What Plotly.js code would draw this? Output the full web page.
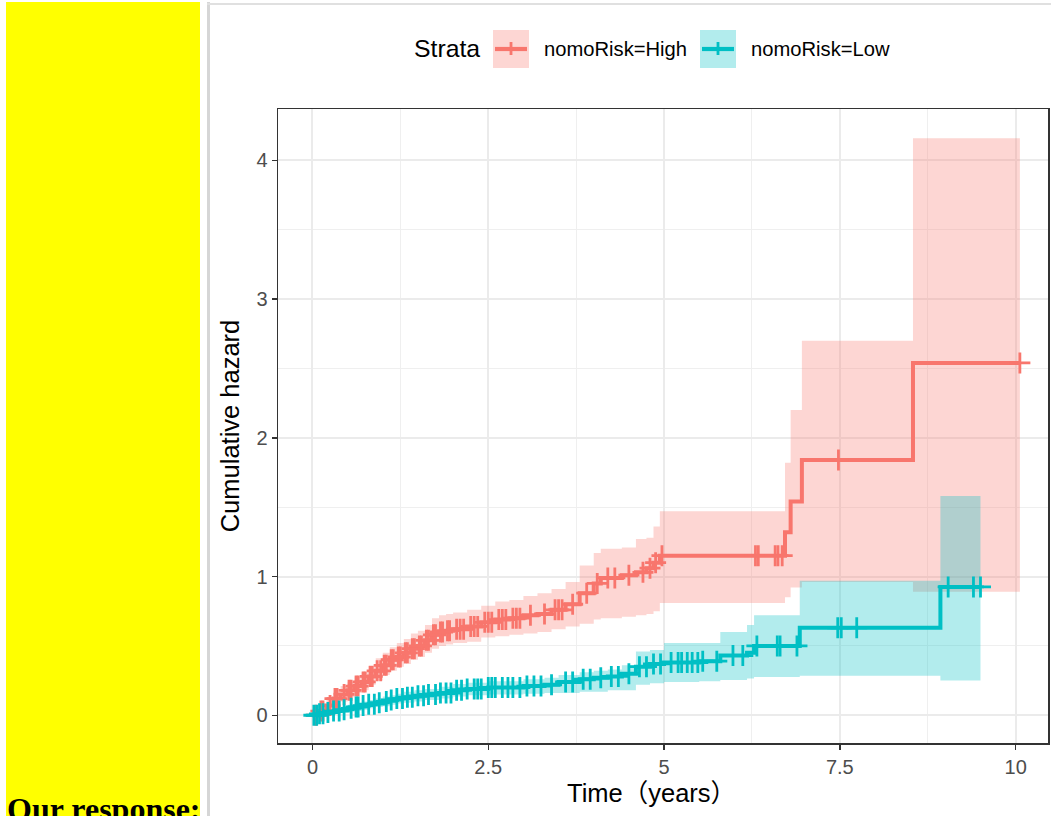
<!DOCTYPE html>
<html>
<head>
<meta charset="utf-8">
<script src="https://cdn.plot.ly/plotly-3.0.1.min.js"></script>
<style>
  html, body { margin:0; padding:0; background:#fff; width:1051px; height:816px; overflow:hidden; }
  #chart { position:absolute; left:0; top:0; width:1051px; height:816px; }
  .deco { position:absolute; z-index:10; pointer-events:none; }
</style>
</head>
<body>
<div id="chart"></div>
<div class="deco" style="left:6px;top:2px;width:194px;height:814px;background:#FFFF00;"></div>
<div class="deco" style="left:207px;top:2px;width:3px;height:814px;background:#D6D6D6;"></div>
<div class="deco" style="left:207px;top:3px;width:844px;height:1.5px;background:#E0E0E0;"></div>
<div class="deco" style="left:7px;top:793px;font:bold 32px 'Liberation Serif','Times New Roman',serif;line-height:32px;color:#000;white-space:nowrap;">Our response:</div>
<script>
// ---------- data ----------
const strataNames = ["nomoRisk=High", "nomoRisk=Low"];

const highTime  = [0, 0.1, 0.2, 0.3, 0.4, 0.5, 0.6, 0.7, 0.8, 0.9, 1.0, 1.1, 1.2, 1.3, 1.4, 1.5, 1.6, 1.7, 1.8, 1.9, 2.0, 2.2, 2.4, 2.6, 2.8, 3.0, 3.2, 3.4, 3.6, 3.8, 4.0, 4.1, 4.4, 4.6, 4.75, 4.85, 4.94, 6.72, 6.80, 6.96, 8.54];
const highHaz   = [0, 0.03, 0.07, 0.12, 0.15, 0.18, 0.21, 0.24, 0.28, 0.32, 0.36, 0.40, 0.42, 0.45, 0.48, 0.50, 0.54, 0.58, 0.60, 0.61, 0.62, 0.64, 0.67, 0.69, 0.70, 0.72, 0.73, 0.76, 0.80, 0.88, 0.95, 0.99, 1.01, 1.03, 1.06, 1.10, 1.15, 1.32, 1.54, 1.84, 2.54];
const highLower = [0, 0.01, 0.04, 0.08, 0.10, 0.13, 0.16, 0.18, 0.22, 0.25, 0.29, 0.32, 0.35, 0.37, 0.40, 0.42, 0.45, 0.48, 0.50, 0.51, 0.52, 0.53, 0.56, 0.57, 0.58, 0.59, 0.60, 0.62, 0.64, 0.66, 0.69, 0.70, 0.71, 0.72, 0.73, 0.75, 0.81, 0.85, 0.92, 0.96, 0.89];
const highUpper = [0, 0.06, 0.11, 0.17, 0.21, 0.24, 0.28, 0.31, 0.36, 0.41, 0.45, 0.49, 0.52, 0.55, 0.59, 0.61, 0.65, 0.70, 0.72, 0.73, 0.74, 0.76, 0.79, 0.82, 0.83, 0.86, 0.88, 0.91, 0.96, 1.08, 1.17, 1.20, 1.21, 1.27, 1.28, 1.36, 1.47, 1.82, 2.20, 2.70, 4.16];
const highEnd = 10.06;
const highCensor = [0.05, 0.12, 0.15, 0.25, 0.32, 0.35, 0.45, 0.52, 0.55, 0.62, 0.65, 0.72, 0.75, 0.82, 0.85, 0.92, 0.97, 1.02, 1.05, 1.12, 1.15, 1.22, 1.25, 1.32, 1.35, 1.42, 1.45, 1.52, 1.55, 1.62, 1.65, 1.72, 1.75, 1.82, 1.85, 1.92, 1.95, 2.05, 2.1, 2.15, 2.25, 2.3, 2.35, 2.45, 2.5, 2.55, 2.65, 2.7, 2.75, 2.85, 2.9, 2.95, 3.1, 3.3, 3.45, 3.5, 3.55, 3.7, 3.9, 4.05, 4.2, 4.3, 4.5, 4.7, 4.8, 4.88, 4.97, 6.3, 6.34, 6.58, 6.62, 6.68, 7.48, 10.06];

const lowTime  = [0, 0.1, 0.2, 0.3, 0.4, 0.5, 0.6, 0.7, 0.8, 0.9, 1.0, 1.1, 1.2, 1.3, 1.45, 1.6, 1.8, 2.0, 2.2, 2.5, 3.0, 3.3, 3.5, 3.8, 4.0, 4.2, 4.4, 4.6, 4.8, 5.0, 5.5, 5.8, 6.18, 6.28, 6.93, 8.93];
const lowHaz   = [0, 0.01, 0.02, 0.03, 0.04, 0.05, 0.06, 0.07, 0.08, 0.09, 0.10, 0.11, 0.12, 0.13, 0.14, 0.15, 0.16, 0.18, 0.19, 0.20, 0.21, 0.22, 0.24, 0.26, 0.27, 0.28, 0.30, 0.35, 0.37, 0.38, 0.39, 0.43, 0.45, 0.50, 0.63, 0.925];
const lowLower = [0, 0.0, 0.005, 0.01, 0.02, 0.025, 0.03, 0.04, 0.05, 0.06, 0.065, 0.075, 0.085, 0.09, 0.10, 0.11, 0.12, 0.135, 0.145, 0.15, 0.155, 0.16, 0.16, 0.17, 0.17, 0.18, 0.18, 0.22, 0.23, 0.24, 0.245, 0.255, 0.265, 0.275, 0.285, 0.25];
const lowUpper = [0, 0.02, 0.035, 0.05, 0.06, 0.075, 0.085, 0.10, 0.11, 0.12, 0.135, 0.145, 0.155, 0.17, 0.18, 0.19, 0.205, 0.225, 0.235, 0.245, 0.26, 0.27, 0.29, 0.31, 0.32, 0.33, 0.36, 0.46, 0.47, 0.52, 0.52, 0.60, 0.65, 0.72, 0.97, 1.58];
const lowEnd = 9.5;
const lowCensor = [0.02, 0.06, 0.1, 0.15, 0.22, 0.3, 0.38, 0.45, 0.55, 0.62, 0.65, 0.72, 0.8, 0.88, 0.95, 1.05, 1.12, 1.2, 1.28, 1.35, 1.42, 1.5, 1.58, 1.65, 1.75, 1.82, 1.9, 1.97, 2.05, 2.12, 2.2, 2.3, 2.35, 2.4, 2.5, 2.55, 2.6, 2.7, 2.78, 2.85, 2.95, 3.05, 3.15, 3.25, 3.4, 3.6, 3.7, 3.85, 3.95, 4.1, 4.25, 4.35, 4.5, 4.65, 4.75, 4.85, 4.95, 5.1, 5.2, 5.25, 5.33, 5.4, 5.48, 5.55, 5.75, 5.98, 6.12, 6.32, 6.61, 6.65, 6.89, 7.47, 7.52, 7.74, 9.04, 9.4, 9.5];

const xTickVals = [0, 2.5, 5, 7.5, 10];
const xMinorVals = [1.25, 3.75, 6.25, 8.75];
const yTickVals = [0, 1, 2, 3, 4];
const yMinorVals = [0.5, 1.5, 2.5, 3.5];
const xTitle = "Time\uFF08years\uFF09";
const yTitle = "Cumulative hazard";

// ---------- styles ----------
const RED = "#F8766D", CYAN = "#00BFC4";
const RED_FILL = "rgba(248,118,109,0.3)", CYAN_FILL = "rgba(0,191,196,0.3)";
const FONT = "'Liberation Sans', Arial, 'Noto Sans CJK SC', sans-serif";

function ext(arr, end) { return arr.concat([end]); }
function extV(arr) { return arr.concat([arr[arr.length - 1]]); }
function stepAt(times, vals, t) {
  let v = vals[0];
  for (let i = 0; i < times.length; i++) { if (times[i] <= t) v = vals[i]; }
  return v;
}

function bandTraces(time, lo, up, end, fill) {
  return [
    { x: ext(time, end), y: extV(lo), mode: "lines", line: { shape: "hv", width: 0, color: fill }, hoverinfo: "skip", showlegend: false },
    { x: ext(time, end), y: extV(up), mode: "lines", line: { shape: "hv", width: 0, color: fill }, fill: "tonexty", fillcolor: fill, hoverinfo: "skip", showlegend: false }
  ];
}
function curveTrace(time, haz, end, color, name) {
  return { x: ext(time, end), y: extV(haz), mode: "lines", name: name, line: { shape: "hv", width: 4, color: color }, showlegend: false };
}
function censorTrace(ct, time, haz, color) {
  return { x: ct, y: ct.map(t => stepAt(time, haz, t)), mode: "markers",
    marker: { symbol: "cross-thin-open", size: 15, color: color, line: { width: 2.8, color: color } },
    hoverinfo: "skip", showlegend: false };
}

const data = []
  .concat(bandTraces(highTime, highLower, highUpper, highEnd, RED_FILL))
  .concat(bandTraces(lowTime, lowLower, lowUpper, lowEnd, CYAN_FILL))
  .concat([curveTrace(highTime, highHaz, highEnd, RED, strataNames[0]),
           curveTrace(lowTime, lowHaz, lowEnd, CYAN, strataNames[1]),
           censorTrace(highCensor, highTime, highHaz, RED),
           censorTrace(lowCensor, lowTime, lowHaz, CYAN)]);

// pixel -> paper helpers (plot area: x 278..1048, y 109..743)
const L = 278, R = 1048, T = 109, B = 743;
const px = v => (v - L) / (R - L);
const py = v => (B - v) / (B - T);

// manual ggplot-style legend
const shapes = [];
const annotations = [];
function legendKey(x0, fill, color) {
  shapes.push({ type: "rect", xref: "paper", yref: "paper", x0: px(x0), x1: px(x0 + 36), y0: py(68), y1: py(30), fillcolor: fill, line: { width: 0 } });
  shapes.push({ type: "line", xref: "paper", yref: "paper", x0: px(x0 + 2), x1: px(x0 + 34), y0: py(49), y1: py(49), line: { color: color, width: 4.2 } });
  shapes.push({ type: "line", xref: "paper", yref: "paper", x0: px(x0 + 18), x1: px(x0 + 18), y0: py(42), y1: py(55), line: { color: color, width: 2.8 } });
}
legendKey(493, RED_FILL, RED);
legendKey(700, CYAN_FILL, CYAN);
annotations.push({ xref: "paper", yref: "paper", x: px(412), y: py(49), xanchor: "left", yanchor: "middle", text: "Strata", showarrow: false, font: { family: FONT, size: 24.8, color: "#000" } });
annotations.push({ xref: "paper", yref: "paper", x: px(542), y: py(49), xanchor: "left", yanchor: "middle", text: strataNames[0], showarrow: false, font: { family: FONT, size: 20.2, color: "#000" } });
annotations.push({ xref: "paper", yref: "paper", x: px(749), y: py(49), xanchor: "left", yanchor: "middle", text: strataNames[1], showarrow: false, font: { family: FONT, size: 20.2, color: "#000" } });
// x axis title (placed like the reference)
annotations.push({ xref: "paper", yref: "paper", x: px(565), y: py(793), xanchor: "left", yanchor: "middle", text: xTitle, showarrow: false, font: { family: FONT, size: 25.5, color: "#000" } });

const layout = {
  width: 1051, height: 816,
  margin: { l: L, r: 1051 - R, t: T, b: 816 - B, pad: 0 },
  paper_bgcolor: "#ffffff", plot_bgcolor: "#ffffff",
  showlegend: false,
  font: { family: FONT },
  xaxis: {
    range: [-0.49, 10.46], tickmode: "array", tickvals: xTickVals, ticktext: xTickVals.map(String),
    ticks: "outside", ticklen: 5, tickwidth: 1.5, tickcolor: "#333333",
    tickfont: { family: FONT, size: 20, color: "#4D4D4D" },
    showline: true, mirror: true, linecolor: "#333333", linewidth: 1.5,
    showgrid: true, gridcolor: "#EBEBEB", gridwidth: 2,
    minor: { tickmode: "array", tickvals: xMinorVals, showgrid: true, gridcolor: "#EFEFEF", gridwidth: 1, ticks: "" },
    zeroline: false
  },
  yaxis: {
    range: [-0.2, 4.37], tickmode: "array", tickvals: yTickVals, ticktext: yTickVals.map(String),
    ticks: "outside", ticklen: 5, tickwidth: 1.5, tickcolor: "#333333",
    tickfont: { family: FONT, size: 20, color: "#4D4D4D" },
    showline: true, mirror: true, linecolor: "#333333", linewidth: 1.5,
    showgrid: true, gridcolor: "#EBEBEB", gridwidth: 2,
    minor: { tickmode: "array", tickvals: yMinorVals, showgrid: true, gridcolor: "#EFEFEF", gridwidth: 1, ticks: "" },
    zeroline: false,
    title: { text: yTitle, font: { family: FONT, size: 25.5, color: "#000" }, standoff: 9 }
  },
  shapes: shapes,
  annotations: annotations
};

Plotly.newPlot("chart", data, layout, { displayModeBar: false, staticPlot: true });
</script>
</body>
</html>
